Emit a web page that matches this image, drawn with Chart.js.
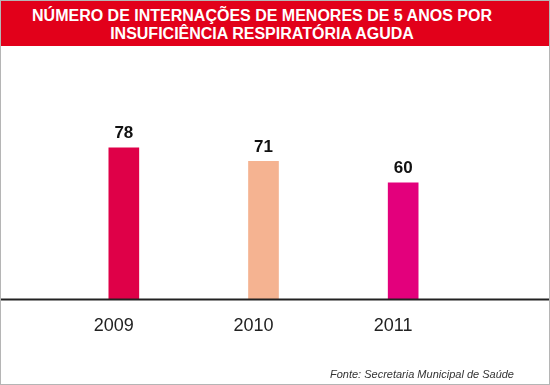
<!DOCTYPE html>
<html>
<head>
<meta charset="utf-8">
<script src="https://cdn.jsdelivr.net/npm/chart.js@4"></script>
<style>
    html, body { margin: 0; padding: 0; background: #fff; }
    #wrap { position: relative; width: 550px; height: 385px; box-sizing: border-box; border: 1px solid #b5b5b5; overflow: hidden; font-family: "Liberation Sans", Arial, sans-serif; }
    #title { position: absolute; left: 0; top: 0; width: 548px; height: 45px; background: #e2001a; color: #fff; font-weight: bold; font-size: 16px; line-height: 18px; text-align: center; padding: 6px 38px 0 12px; box-sizing: border-box; }
    #source { position: absolute; right: 35px; bottom: 4px; font-size: 11px; font-style: italic; color: #333; }
    canvas { position: absolute; left: 0; top: 0; }
</style>
</head>
<body>
<div id="wrap">
    <canvas id="chart" width="548" height="383"></canvas>
    <div id="title">NÚMERO DE INTERNAÇÕES DE MENORES DE 5 ANOS POR<br>INSUFICIÊNCIA RESPIRATÓRIA AGUDA</div>
    <div id="source">Fonte: Secretaria Municipal de Saúde</div>
</div>
<script>
const years = ['2009', '2010', '2011'];
const admissions = [78, 71, 60];
const barColors = ['#df0048', '#f5b391', '#e3007c'];

// baseline across the whole width, at the y scale's zero
const baselinePlugin = {
    id: 'baseline',
    afterDatasetsDraw(chart) {
        const ctx = chart.ctx;
        const y = chart.scales.y.getPixelForValue(0);
        ctx.save();
        ctx.strokeStyle = '#222';
        ctx.lineWidth = 2;
        ctx.beginPath();
        ctx.moveTo(0, y);
        ctx.lineTo(chart.width, y);
        ctx.stroke();
        ctx.restore();
    }
};

// value labels above each bar
const valueLabelPlugin = {
    id: 'valueLabels',
    afterDatasetsDraw(chart) {
        const ctx = chart.ctx;
        const meta = chart.getDatasetMeta(0);
        ctx.save();
        ctx.font = 'bold 17px "Liberation Sans", Arial, sans-serif';
        ctx.fillStyle = '#111';
        ctx.textAlign = 'center';
        ctx.textBaseline = 'bottom';
        meta.data.forEach((bar, i) => {
            ctx.fillText(String(admissions[i]), bar.x, bar.y - 6);
        });
        ctx.restore();
    }
};

new Chart(document.getElementById('chart').getContext('2d'), {
    type: 'bar',
    data: {
        labels: years,
        datasets: [{
            data: admissions,
            backgroundColor: barColors,
            barThickness: 30
        }]
    },
    options: {
        responsive: false,
        animation: false,
        layout: { padding: { top: 104, left: 53, right: 76, bottom: 31 } },
        plugins: { legend: { display: false }, tooltip: { enabled: false } },
        scales: {
            x: {
                grid: { display: false, drawTicks: false },
                border: { display: false },
                ticks: {
                    padding: 16,
                    labelOffset: -10,
                    color: '#222',
                    font: { family: '"Liberation Sans", Arial, sans-serif', size: 18 }
                }
            },
            y: { display: false, min: 0, max: 100 }
        }
    },
    plugins: [baselinePlugin, valueLabelPlugin]
});
</script>
</body>
</html>
